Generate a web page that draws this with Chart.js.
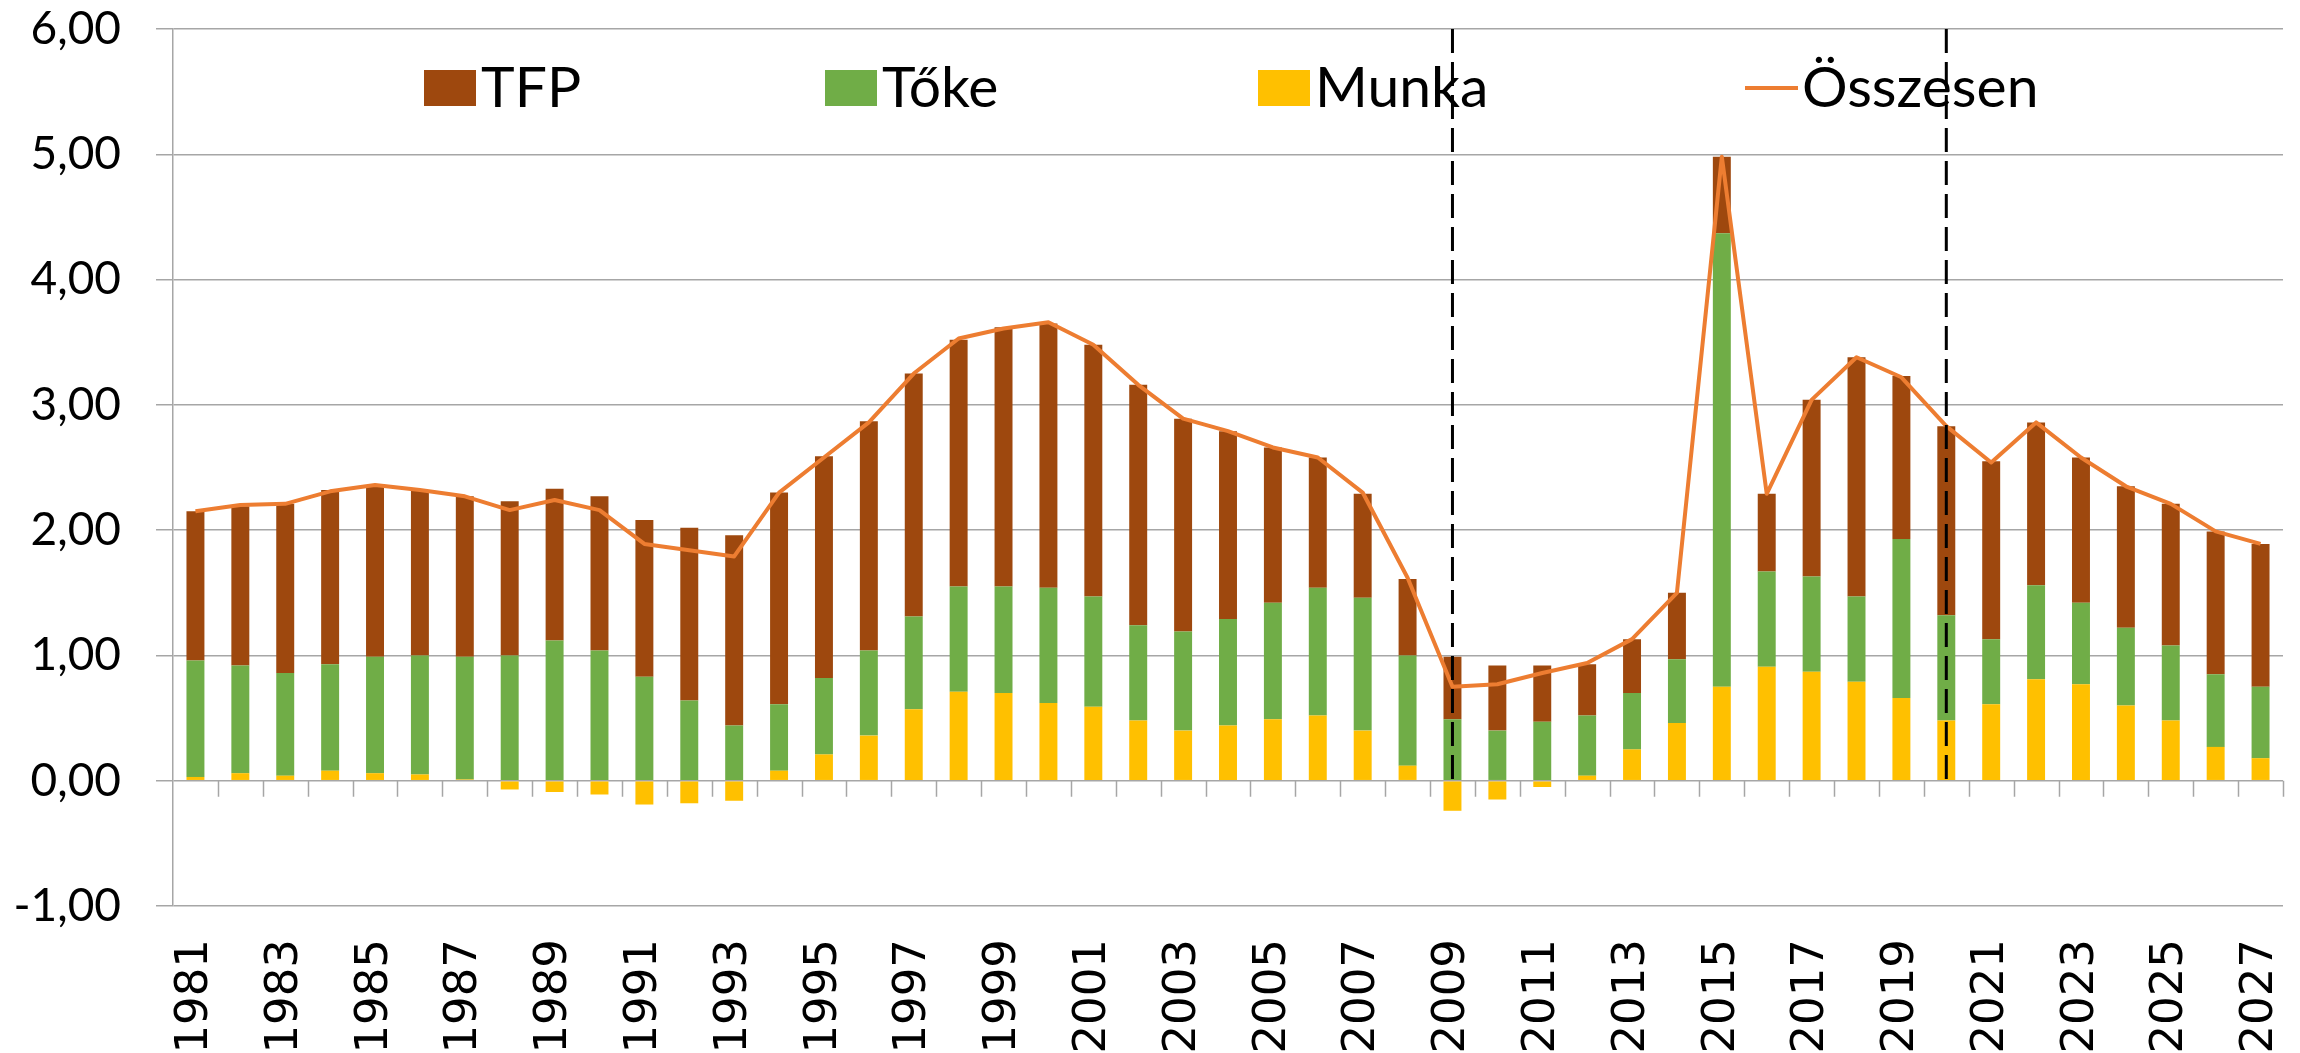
<!DOCTYPE html>
<html lang="hu">
<head>
<meta charset="utf-8">
<title>TFP, Tőke, Munka</title>
<script src="https://cdn.jsdelivr.net/npm/chart.js@4.4.1/dist/chart.umd.min.js"></script>
<style>
    html, body { margin: 0; padding: 0; background: #fff; }
    #grafikon { display: block; }
</style>
</head>
<body>
<canvas id="grafikon" width="2300" height="1053"></canvas>
<script>
// ADATOK
const evek = [
    '1981', '1982', '1983', '1984', '1985', '1986', '1987', '1988', '1989', '1990',
    '1991', '1992', '1993', '1994', '1995', '1996', '1997', '1998', '1999', '2000',
    '2001', '2002', '2003', '2004', '2005', '2006', '2007', '2008', '2009', '2010',
    '2011', '2012', '2013', '2014', '2015', '2016', '2017', '2018', '2019', '2020',
    '2021', '2022', '2023', '2024', '2025', '2026', '2027'
];

const tfp = [
    1.19, 1.27, 1.35, 1.39, 1.37, 1.32, 1.28, 1.23, 1.21, 1.23,
    1.25, 1.38, 1.52, 1.69, 1.77, 1.83, 1.94, 1.97, 2.07, 2.11,
    2.01, 1.92, 1.70, 1.50, 1.24, 1.04, 0.83, 0.61, 0.50, 0.52,
    0.45, 0.41, 0.43, 0.53, 0.61, 0.62, 1.41, 1.91, 1.30, 1.51,
    1.42, 1.30, 1.16, 1.13, 1.13, 1.14, 1.14
];

const toke = [
    0.93, 0.86, 0.82, 0.85, 0.93, 0.95, 0.98, 1.00, 1.12, 1.04,
    0.83, 0.64, 0.44, 0.53, 0.61, 0.68, 0.74, 0.84, 0.85, 0.92,
    0.88, 0.76, 0.79, 0.85, 0.93, 1.02, 1.06, 0.88, 0.49, 0.40,
    0.47, 0.48, 0.45, 0.51, 3.62, 0.76, 0.76, 0.68, 1.27, 0.84,
    0.52, 0.75, 0.65, 0.62, 0.60, 0.58, 0.57
];

const munka = [
    0.03, 0.06, 0.04, 0.08, 0.06, 0.05, 0.01, -0.07, -0.09, -0.11,
    -0.19, -0.18, -0.16, 0.08, 0.21, 0.36, 0.57, 0.71, 0.70, 0.62,
    0.59, 0.48, 0.40, 0.44, 0.49, 0.52, 0.40, 0.12, -0.24, -0.15,
    -0.05, 0.04, 0.25, 0.46, 0.75, 0.91, 0.87, 0.79, 0.66, 0.48,
    0.61, 0.81, 0.77, 0.60, 0.48, 0.27, 0.18
];

const osszesen = [
    2.15, 2.20, 2.21, 2.31, 2.36, 2.32, 2.27, 2.16, 2.24, 2.16,
    1.89, 1.84, 1.79, 2.30, 2.58, 2.86, 3.25, 3.53, 3.61, 3.66,
    3.48, 3.16, 2.89, 2.79, 2.66, 2.58, 2.30, 1.62, 0.75, 0.77,
    0.86, 0.94, 1.13, 1.50, 4.98, 2.29, 3.04, 3.38, 3.22, 2.83,
    2.54, 2.86, 2.58, 2.35, 2.21, 1.99, 1.89
];

const yTickek = [-1, 0, 1, 2, 3, 4, 5, 6];
const szaggatottEvek = ['2009', '2020'];

// jelmagyarázat: adatsor indexek és kezdő x pozíciók
const legendaSor = [0, 1, 2, 3];
const legendaX = [424, 825, 1258, 1745];

const racsSzin = '#a6a6a6';

// a tengelyek ne tegyenek extra helyet a feliratoknak
function nullPadding(scale) {
    scale.paddingTop = 0;
    scale.paddingBottom = 0;
    scale.paddingLeft = 0;
    scale.paddingRight = 0;
}

// x tengely kis beosztásai a 0 vonalon + szaggatott függőleges vonalak
const nullaVonal = {
    id: 'nullaVonal',
    afterDatasetsDraw(chart) {
        const c = chart.ctx;
        const x = chart.scales.x;
        const y = chart.scales.y;
        const y0 = y.getPixelForValue(0);
        const w = (x.right - x.left) / evek.length;
        c.save();
        c.strokeStyle = racsSzin;
        c.lineWidth = 1.5;
        c.beginPath();
        for (let i = 1; i <= evek.length; i++) {
            const px = Math.round(x.left + i * w) + 0.5;
            c.moveTo(px, y0);
            c.lineTo(px, y0 + 16);
        }
        c.stroke();

        c.strokeStyle = '#000';
        c.lineWidth = 3;
        c.setLineDash([24, 9]);
        szaggatottEvek.forEach(ev => {
            const px = x.getPixelForValue(evek.indexOf(ev));
            c.beginPath();
            c.moveTo(px, y.getPixelForValue(6));
            c.lineTo(px, y0);
            c.stroke();
        });
        c.restore();
    }
};

const jelmagyarazat = {
    id: 'jelmagyarazat',
    afterDraw(chart) {
        const c = chart.ctx;
        const yKozep = 88;
        c.save();
        c.font = '57px Lato';
        c.textBaseline = 'alphabetic';
        legendaSor.forEach((idx, i) => {
            const ds = chart.data.datasets[idx];
            const x = legendaX[i];
            if (ds.type === 'line') {
                c.strokeStyle = ds.borderColor;
                c.lineWidth = 4;
                c.beginPath();
                c.moveTo(x, yKozep);
                c.lineTo(x + 53, yKozep);
                c.stroke();
            } else {
                c.fillStyle = ds.backgroundColor;
                c.fillRect(x, yKozep - 18, 52, 36);
            }
            c.fillStyle = '#000';
            c.fillText(ds.label, x + 57, yKozep + 19);
        });
        c.restore();
    }
};

const data = {
    labels: evek,
    datasets: [{
            type: 'bar',
            label: 'TFP',
            data: tfp,
            backgroundColor: '#9e480e',
            order: 3
        },
        {
            type: 'bar',
            label: 'Tőke',
            data: toke,
            backgroundColor: '#70ad47',
            order: 2
        },
        {
            type: 'bar',
            label: 'Munka',
            data: munka,
            backgroundColor: '#ffc000',
            order: 1
        },
        {
            type: 'line',
            label: 'Összesen',
            data: osszesen,
            borderColor: '#ed7d31',
            backgroundColor: '#ed7d31',
            borderWidth: 4,
            borderJoinStyle: 'round',
            pointRadius: 0,
            tension: 0,
            stack: 'osszesen',
            order: 0
        }
    ]
};

const config = {
    type: 'bar',
    data: data,
    options: {
        responsive: false,
        animation: false,
        devicePixelRatio: 1,
        layout: {
            padding: { top: 29, right: 17, bottom: 0, left: 0 }
        },
        datasets: {
            bar: {
                barPercentage: 0.4,
                categoryPercentage: 1.0
            }
        },
        plugins: {
            legend: { display: false },
            tooltip: { enabled: false }
        },
        scales: {
            x: {
                stacked: true,
                grid: { display: false, drawTicks: false },
                border: { display: false },
                ticks: {
                    autoSkip: false,
                    minRotation: 90,
                    maxRotation: 90,
                    padding: 33,
                    color: '#000',
                    font: { family: 'DejaVu Sans', size: 45 },
                    callback: function (val, idx) {
                        return idx % 2 === 0 ? evek[idx] : '';
                    }
                },
                afterFit: function (scale) {
                    scale.height = 147;
                    nullPadding(scale);
                }
            },
            y: {
                stacked: true,
                min: yTickek[0],
                max: yTickek[yTickek.length - 1],
                afterBuildTicks: function (scale) {
                    scale.ticks = yTickek.map(v => ({ value: v }));
                },
                grid: {
                    color: racsSzin,
                    lineWidth: 1.5,
                    drawTicks: true,
                    tickLength: 17
                },
                border: { display: true, color: racsSzin, width: 1.5 },
                ticks: {
                    padding: 35,
                    color: '#000',
                    font: { family: 'Lato', size: 46 },
                    callback: function (val) {
                        return val.toFixed(2).replace('.', ',');
                    }
                },
                afterFit: function (scale) {
                    scale.width = 173;
                    nullPadding(scale);
                }
            }
        }
    },
    plugins: [nullaVonal, jelmagyarazat]
};

new Chart(document.getElementById('grafikon'), config);
</script>
</body>
</html>
